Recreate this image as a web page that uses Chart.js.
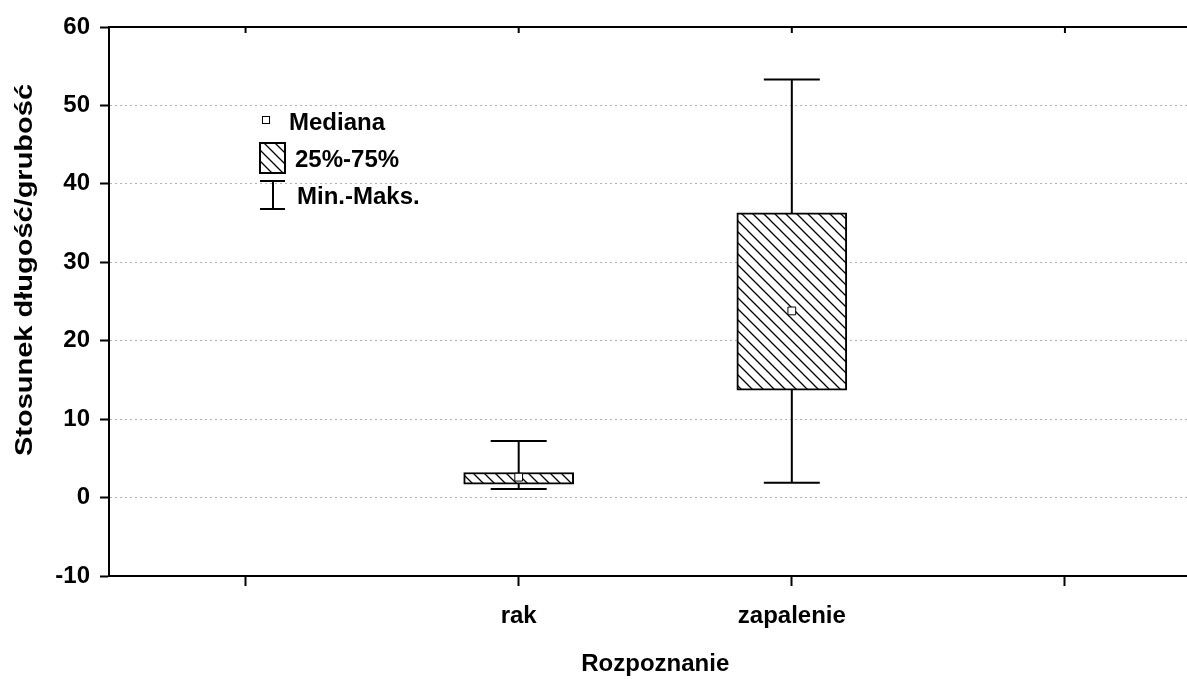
<!DOCTYPE html>
<html>
<head>
<meta charset="utf-8">
<script src="https://cdn.jsdelivr.net/npm/chart.js@4/dist/chart.umd.min.js"></script>
<style>
  html, body { margin: 0; padding: 0; background: #fff; overflow: hidden; }
  #boxChart { display: block; }
</style>
</head>
<body>
<canvas id="boxChart" width="1208" height="679"></canvas>
<script>
// categories on the x axis (empty slots at both ends keep the outer ticks)
const categories = ['', 'rak', 'zapalenie', ''];
const minVals    = [null, 1.1, 1.9, null];
const q1Vals     = [null, 1.7, 13.7, null];
const medianVals = [null, 2.6, 23.8, null];
const q3Vals     = [null, 3.2, 36.3, null];
const maxVals    = [null, 7.2, 53.3, null];

const yMin = -10, yMax = 60, yStep = 10;
const yTitle = 'Stosunek długość/grubość';

const FONT = '"Liberation Sans", Arial, sans-serif';
const fontBold = { family: FONT, size: 24, weight: 'bold' };

// diagonal hatch used for the quartile boxes
const makeHatch = (ctx) => {
    const s = 11;
    const c = document.createElement('canvas');
    c.width = s; c.height = s;
    const g = c.getContext('2d');
    g.fillStyle = '#fff';
    g.fillRect(0, 0, s, s);
    g.strokeStyle = '#000';
    g.lineWidth = 1.3;
    g.beginPath();
    g.moveTo(-1, -1); g.lineTo(s + 1, s + 1);
    g.moveTo(-1, s - 1); g.lineTo(1, s + 1);
    g.moveTo(s - 1, -1); g.lineTo(s + 1, 1);
    g.stroke();
    return ctx.createPattern(c, 'repeat');
};

const canvas = document.getElementById('boxChart');
const ctx = canvas.getContext('2d');
const hatch = makeHatch(ctx);

const boxData = categories.map((_, i) => q1Vals[i] == null ? null : [q1Vals[i], q3Vals[i]]);

//#####################
// Whiskers (drawn under the boxes)
//#####################
const whiskerPlugin = {
    id: 'whiskers',
    beforeDatasetsDraw(chart) {
        const {ctx, scales: {x, y}} = chart;
        const capHalf = 28;
        ctx.save();
        ctx.strokeStyle = '#000';
        ctx.lineWidth = 2;
        categories.forEach((_, i) => {
            if (minVals[i] == null) return;
            const px = x.getPixelForValue(i);
            const top = y.getPixelForValue(maxVals[i]);
            const bot = y.getPixelForValue(minVals[i]);
            ctx.beginPath();
            ctx.moveTo(px, top); ctx.lineTo(px, bot);
            ctx.moveTo(px - capHalf, top); ctx.lineTo(px + capHalf, top);
            ctx.moveTo(px - capHalf, bot); ctx.lineTo(px + capHalf, bot);
            ctx.stroke();
        });
        ctx.restore();
    }
};

//#####################
// Top frame line with inward ticks, y title, legend
//#####################
const framePlugin = {
    id: 'frameAndLegend',
    afterDraw(chart) {
        const {ctx, chartArea: area, scales: {x}} = chart;
        ctx.save();
        ctx.strokeStyle = '#000';
        ctx.lineWidth = 2;
        ctx.beginPath();
        ctx.moveTo(area.left - 1, area.top);
        ctx.lineTo(area.right, area.top);
        x.ticks.forEach((t, i) => {
            const px = x.getPixelForTick(i);
            ctx.moveTo(px, area.top);
            ctx.lineTo(px, area.top + 6);
        });
        ctx.stroke();

        ctx.font = `bold 24px ${FONT}`;
        ctx.fillStyle = '#000';
        ctx.textBaseline = 'middle';

        // y axis title, stretched a little along its length
        ctx.save();
        ctx.translate(25, 270);
        ctx.rotate(-Math.PI / 2);
        const w = ctx.measureText(yTitle).width;
        ctx.scale(372 / w, 1);
        ctx.textAlign = 'center';
        ctx.fillText(yTitle, 0, 0);
        ctx.restore();

        // legend
        const lx = area.left;
        ctx.textAlign = 'left';

        // median marker
        ctx.lineWidth = 1;
        ctx.fillStyle = '#fff';
        ctx.fillRect(lx + 153.5, 116.5, 7, 7);
        ctx.strokeRect(lx + 153.5, 116.5, 7, 7);
        ctx.fillStyle = '#000';
        ctx.fillText('Mediana', lx + 180, 123);

        // quartile box
        ctx.fillStyle = hatch;
        ctx.fillRect(lx + 151, 143, 25, 30);
        ctx.lineWidth = 2;
        ctx.strokeRect(lx + 151, 143, 25, 30);
        ctx.fillStyle = '#000';
        ctx.fillText('25%-75%', lx + 186, 160);

        // min-max whisker
        ctx.beginPath();
        ctx.moveTo(lx + 151, 181); ctx.lineTo(lx + 176, 181);
        ctx.moveTo(lx + 164, 181); ctx.lineTo(lx + 164, 209);
        ctx.moveTo(lx + 151, 209); ctx.lineTo(lx + 176, 209);
        ctx.stroke();
        ctx.fillText('Min.-Maks.', lx + 188, 197);
        ctx.restore();
    }
};

const chart = new Chart(canvas, {
    data: {
        labels: categories,
        datasets: [
            {
                type: 'bar',
                label: '25%-75%',
                data: boxData,
                backgroundColor: hatch,
                borderColor: '#000',
                borderWidth: 2,
                borderSkipped: false,
                barThickness: 110,
                order: 2
            },
            {
                type: 'line',
                label: 'Mediana',
                data: medianVals,
                showLine: false,
                pointStyle: 'rect',
                pointRadius: 5.5,
                pointBackgroundColor: '#fff',
                pointBorderColor: '#000',
                pointBorderWidth: 1,
                order: 1
            }
        ]
    },
    options: {
        responsive: false,
        animation: false,
        devicePixelRatio: 1,
        layout: { padding: { top: 27, right: 1.6, left: 0, bottom: 0 } },
        plugins: {
            legend: { display: false },
            tooltip: { enabled: false }
        },
        scales: {
            x: {
                type: 'category',
                offset: true,
                afterFit: (scale) => { scale.height = 103; },
                grid: {
                    offset: false,
                    drawOnChartArea: false,
                    tickLength: 10,
                    tickWidth: 2,
                    tickColor: '#000'
                },
                border: { color: '#000', width: 2 },
                ticks: {
                    color: '#000',
                    font: fontBold,
                    padding: 16,
                    autoSkip: false,
                    maxRotation: 0
                },
                title: {
                    display: true,
                    text: 'Rozpoznanie',
                    color: '#000',
                    font: fontBold,
                    padding: { top: 0, bottom: 0 }
                }
            },
            y: {
                min: yMin,
                max: yMax,
                afterFit: (scale) => { scale.width = 109; },
                ticks: {
                    stepSize: yStep,
                    color: '#000',
                    font: fontBold,
                    padding: 10
                },
                grid: {
                    color: (c) => (c.tick && (c.tick.value === yMin || c.tick.value === yMax)) ? 'rgba(0,0,0,0)' : '#b4b4b4',
                    lineWidth: 1,
                    tickLength: 9,
                    tickWidth: 2,
                    tickColor: '#000'
                },
                border: { color: '#000', width: 2, dash: [2, 3] }
            }
        }
    },
    plugins: [whiskerPlugin, framePlugin]
});
</script>
</body>
</html>
